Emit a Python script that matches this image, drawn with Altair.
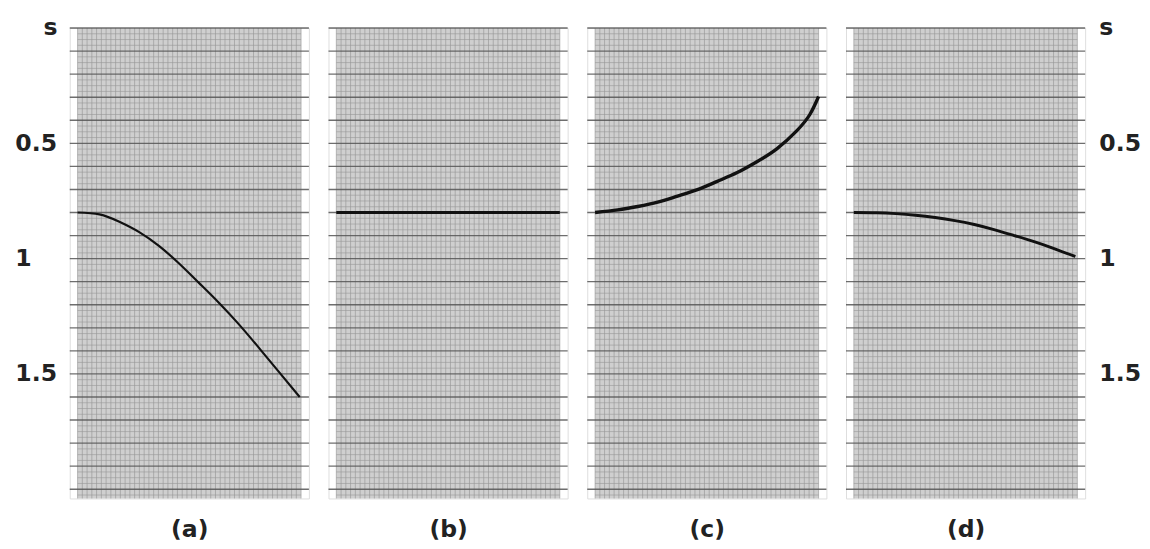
import altair as alt
import pandas as pd

# ---- data ----
panel_labels = ["(a)", "(b)", "(c)", "(d)"]
tick_values = [0, 0.5, 1, 1.5]
tick_labels = ["s", "0.5", "1", "1.5"]

offset_a = [0.0, 0.098, 0.187, 0.276, 0.364, 0.453, 0.542, 0.631, 0.720, 0.809, 0.898, 0.994]
time_a = [0.80, 0.808, 0.840, 0.885, 0.945, 1.020, 1.104, 1.190, 1.283, 1.384, 1.488, 1.600]

offset_b = [0.0, 0.25, 0.5, 0.75, 1.0]
time_b = [0.80, 0.80, 0.80, 0.80, 0.80]

offset_c = [0.0, 0.102, 0.191, 0.280, 0.369, 0.458, 0.547, 0.636, 0.724, 0.813, 0.902, 0.961, 1.0]
time_c = [0.80, 0.789, 0.774, 0.755, 0.729, 0.701, 0.665, 0.627, 0.580, 0.524, 0.446, 0.375, 0.297]

offset_d = [0.0, 0.101, 0.189, 0.276, 0.364, 0.452, 0.539, 0.627, 0.715, 0.803, 0.890, 0.991]
time_d = [0.80, 0.801, 0.805, 0.812, 0.822, 0.835, 0.852, 0.874, 0.899, 0.925, 0.954, 0.991]

# grid / trace layout (decoration)
T_MAX = 2.04
X_DOMAIN = [-0.035, 1.035]
trace_positions = [i / 47 for i in range(48)]
major_lines = [round(i * 0.1, 2) for i in range(21)]
minor_lines = [round(i * 0.025, 3) for i in range(82) if i % 4 != 0]

FONT = "DejaVu Sans"
TEXT_COLOR = "#222222"


def x_enc(field, label):
    return alt.X(
        field,
        type="quantitative",
        scale=alt.Scale(domain=X_DOMAIN, nice=False, zero=False),
        axis=alt.Axis(
            title=label, labels=False, ticks=False, domain=False, grid=False,
            titleFont=FONT, titleFontSize=24, titleFontWeight="bold",
            titleColor=TEXT_COLOR, titlePadding=20,
        ),
    )


def y_enc(field, orient):
    if orient is None:
        axis = None
    else:
        expr = " : ".join(
            f"datum.value == {v} ? '{l}'" for v, l in zip(tick_values, tick_labels)
        ) + " : ''"
        if orient == "left":
            pad = alt.condition("datum.value == 0", alt.value(13), alt.value(56))
            align = alt.condition("datum.value == 0", alt.value("right"), alt.value("left"))
            ext = 62
        else:
            pad = 14
            align = "left"
            ext = 45
        axis = alt.Axis(
            orient=orient, title=None, values=tick_values, labelExpr=expr,
            ticks=False, domain=False, grid=False,
            labelFont=FONT, labelFontSize=24, labelFontWeight="bold",
            labelColor=TEXT_COLOR, labelPadding=pad, labelAlign=align,
            minExtent=ext, maxExtent=ext,
        )
    return alt.Y(
        field, type="quantitative",
        scale=alt.Scale(domain=[0, T_MAX], reverse=True, nice=False, zero=False),
        axis=axis,
    )


def panel(offsets, times, label, orient, stroke_w):
    bg = pd.DataFrame({"x0": [0.0], "x1": [1.0], "t0": [0.0], "t1": [T_MAX]})
    rect = alt.Chart(bg).mark_rect(color="#cfcfcf").encode(
        x=x_enc("x0", label), x2="x1", y=y_enc("t0", orient), y2="t1"
    )
    traces = alt.Chart(pd.DataFrame({"x": trace_positions})).mark_rule(
        color="#8a8a8a", strokeWidth=1, opacity=0.55
    ).encode(x=x_enc("x", label))
    minor = alt.Chart(
        pd.DataFrame({"t": minor_lines, "x0": 0.0, "x1": 1.0})
    ).mark_rule(color="#969696", strokeWidth=1, opacity=0.6).encode(
        x=x_enc("x0", label), x2="x1", y=y_enc("t", orient)
    )
    major = alt.Chart(pd.DataFrame({"t": major_lines})).mark_rule(
        color="#555555", strokeWidth=1.4, opacity=0.85
    ).encode(y=y_enc("t", orient))
    curve = alt.Chart(pd.DataFrame({"x": offsets, "t": times})).mark_line(
        color="#111111", strokeWidth=stroke_w, interpolate="natural"
    ).encode(x=x_enc("x", label), y=y_enc("t", orient))
    return alt.layer(rect, traces, minor, major, curve).properties(
        width=244, height=480
    )


chart = alt.hconcat(
    panel(offset_a, time_a, panel_labels[0], "left", 2.2),
    panel(offset_b, time_b, panel_labels[1], None, 3.2),
    panel(offset_c, time_c, panel_labels[2], None, 3.4),
    panel(offset_d, time_d, panel_labels[3], "right", 3.0),
    spacing=16,
).properties(
    padding={"left": 0, "top": 2, "right": 0, "bottom": -6}
).configure_view(stroke=None).configure(background="white")

chart.save("out.html", embed_options={"renderer": "svg", "actions": False})
